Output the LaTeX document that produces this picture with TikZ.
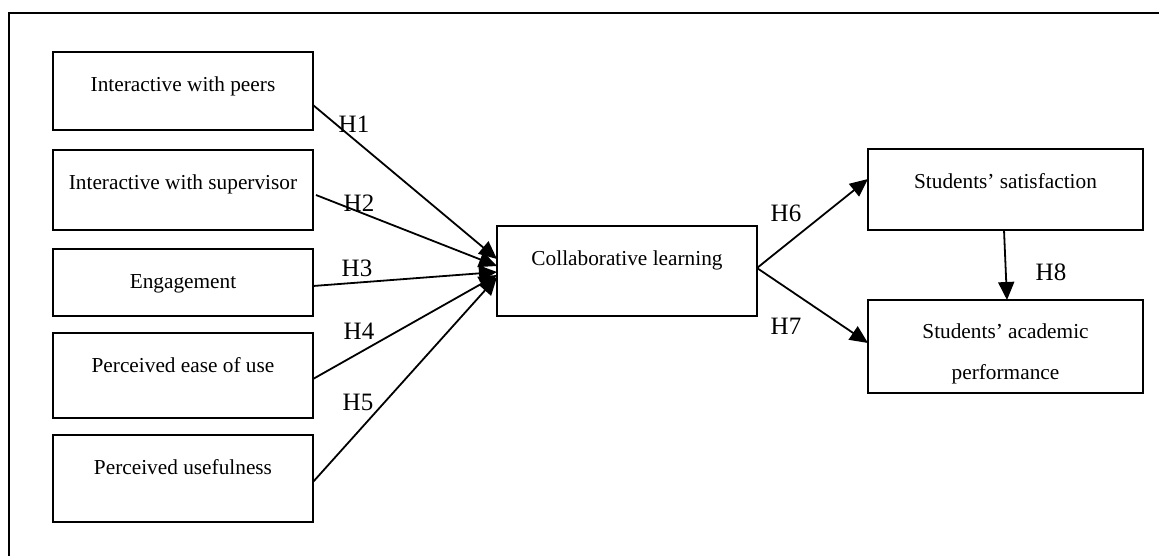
\documentclass[tikz,border=0pt]{standalone}
\usepackage{fontspec}
\setmainfont{Liberation Serif}
\usetikzlibrary{arrows.meta,calc}
\begin{document}
\begin{tikzpicture}[x=1pt,y=-1pt,
  box/.style={draw,line width=1.8pt,inner sep=0pt,outer sep=0pt},
  lbl/.style={anchor=base,inner sep=0pt,font=\fontsize{21.3}{25}\selectfont},
  hlbl/.style={anchor=base,inner sep=0pt,font=\fontsize{25}{29}\selectfont},
  arr/.style={line width=1.8pt,-{Triangle[length=18pt,width=16pt]}}]
\useasboundingbox (0,0) rectangle (1159,555);
% clipped outer frame
\draw[line width=2.4pt] (9,600) -- (9,13) -- (1200,13);
% boxes
\node[box,minimum width=260pt,minimum height=78pt] (b1) at (183,91) {};
\node[box,minimum width=260pt,minimum height=80pt] (b2) at (183,190) {};
\node[box,minimum width=260pt,minimum height=67pt] (b3) at (183,282.5) {};
\node[box,minimum width=260pt,minimum height=85pt] (b4) at (183,375.5) {};
\node[box,minimum width=260pt,minimum height=87pt] (b5) at (183,478.5) {};
\node[box,minimum width=260pt,minimum height=90pt] (cl) at (627,271) {};
\node[box,minimum width=275pt,minimum height=81pt] (ss) at (1005.5,189.5) {};
\node[box,minimum width=275pt,minimum height=93pt] (ap) at (1005.5,346.5) {};
% texts
\node[lbl] (t1) at (183,91) {Interactive with peers};
\node[lbl] (t2) at (183,189) {Interactive with supervisor};
\node[lbl] (t3) at (183,288) {Engagement};
\node[lbl] (t4) at (183,372) {Perceived ease of use};
\node[lbl] (t5) at (183,474) {Perceived usefulness};
\node[lbl] (tc) at (627,265) {Collaborative learning};
\node[lbl] (ts) at (1005.5,188) {Students’ satisfaction};
\node[lbl] (ta1) at (1005.5,338) {Students’ academic};
\node[lbl] (ta2) at (1005.5,379) {performance};
% arrows
\draw[arr] ([yshift=-14pt]b1.east) -- ([yshift=12pt]cl.west);
\draw[arr] ([xshift=3pt,yshift=-5pt]b2.east) -- ([yshift=5pt]cl.west);
\draw[arr] ([yshift=-3.5pt]b3.east) -- ([yshift=-1pt]cl.west);
\draw[arr] ([yshift=-3.5pt]b4.east) -- ([yshift=-4pt]cl.west);
\draw[arr] ([yshift=-3.5pt]b5.east) -- ([yshift=-6pt]cl.west);
\draw[arr] ([yshift=3pt]cl.east) -- ([yshift=10.5pt]ss.west);
\draw[arr] ([yshift=3pt]cl.east) -- ([yshift=3.5pt]ap.west);
\draw[arr] ([xshift=-1.5pt]ss.south) -- ([xshift=1.5pt]ap.north);
% hypothesis labels
\node[hlbl] (h1) at (354,132.7) {H1};
\node[hlbl] (h2) at (359,211.7) {H2};
\node[hlbl] (h3) at (357,276) {H3};
\node[hlbl] (h4) at (359,339) {H4};
\node[hlbl] (h5) at (358,410.7) {H5};
\node[hlbl] (h6) at (786,221.7) {H6};
\node[hlbl] (h7) at (786,334) {H7};
\node[hlbl] (h8) at (1051,280.7) {H8};
\end{tikzpicture}
\end{document}
